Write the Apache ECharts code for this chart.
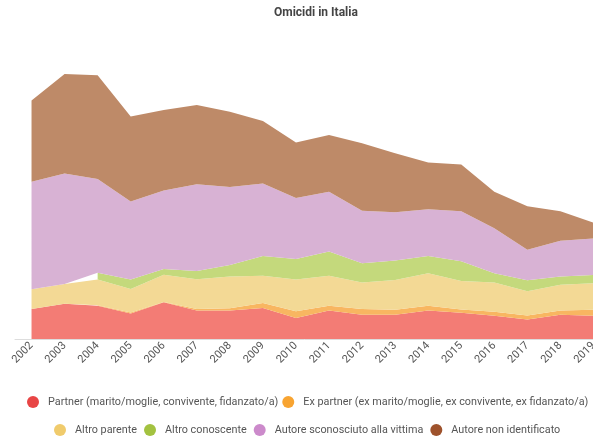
<!DOCTYPE html>
<html>
<head>
<meta charset="utf-8">
<script src="https://cdn.jsdelivr.net/npm/echarts@6/dist/echarts.min.js"></script>
<style>
  html, body { margin: 0; padding: 0; background: #fff; }
  #chart { width: 593px; height: 443px; }
</style>
</head>
<body>
<div id="chart"></div>
<script>
// anni
const years = ['2002', '2003', '2004', '2005', '2006', '2007', '2008', '2009', '2010',
  '2011', '2012', '2013', '2014', '2015', '2016', '2017', '2018', '2019'];

// omicidi per relazione con la vittima (valori stimati dal grafico)
const partner = [80, 94, 89, 68, 98, 76, 76, 83, 56, 76, 65, 65, 76, 70, 62, 52, 65, 62];
const exPartner = [null, null, 1, 3, 1, 4, 6, 13, 18, 13, 15, 13, 13, 9, 11, 11, 11, 16];
const altroParente = [53, 53, 69, 63, 73, 80, 85, 73, 85, 80, 71, 80, 87, 76, 78, 65, 69, 71];
const altroConoscente = [null, null, 18, 25, 15, 22, 31, 53, 55, 65, 52, 52, 46, 53, 25, 29, 22, 22];
const sconosciuto = [288, 296, 251, 209, 210, 232, 209, 194, 163, 160, 140, 129, 125, 134, 120, 82, 96, 98];
const nonIdentificato = [217, 266, 278, 227, 216, 212, 201, 167, 149, 152, 181, 158, 125, 125, 98, 116, 79, 42];

const FONT = 'Roboto, sans-serif';

// nome, dati, colore legenda, colore area
const seriesDefs = [
  ['Partner (marito/moglie, convivente, fidanzato/a)', partner, '#e84545', '#f37c75'],
  ['Ex partner (ex marito/moglie, ex convivente, ex fidanzato/a)', exPartner, '#f8a431', '#f8b661'],
  ['Altro parente', altroParente, '#f0cb6c', '#f3d995'],
  ['Altro conoscente', altroConoscente, '#a3c240', '#c4d97c'],
  ['Autore sconosciuto alla vittima', sconosciuto, '#cc8acb', '#d8b2d4'],
  ['Autore non identificato', nonIdentificato, '#9e522c', '#be8a68']
];

const chart = echarts.init(document.getElementById('chart'));

const legendText = { color: '#555', fontSize: 10.8, fontFamily: FONT };

chart.setOption({
  animation: false,
  title: {
    text: 'Omicidi in Italia',
    left: 269,
    top: 2,
    textStyle: { color: '#444', fontSize: 12, fontWeight: 'bold', fontFamily: FONT }
  },
  tooltip: { trigger: 'axis' },
  legend: [
    {
      data: seriesDefs.slice(0, 2).map(d => d[0]),
      left: 22, top: 391, width: 700,
      icon: 'circle', itemWidth: 20, itemHeight: 12, itemGap: 4,
      textStyle: legendText
    },
    {
      data: seriesDefs.slice(2).map(d => d[0]),
      left: 49, top: 419, width: 700,
      icon: 'circle', itemWidth: 20, itemHeight: 12, itemGap: 7,
      textStyle: legendText
    }
  ],
  grid: { left: 15, right: -17, top: 40, bottom: 104, outerBoundsMode: 'none', containLabel: false },
  xAxis: {
    type: 'category',
    data: years,
    boundaryGap: true,
    axisLine: { lineStyle: { color: '#ddd', width: 1 } },
    axisTick: { show: false },
    axisLabel: { rotate: 45, margin: 5, color: '#555', fontSize: 11, fontFamily: FONT, interval: 0 }
  },
  yAxis: {
    type: 'value',
    min: 0,
    max: 800,
    show: false,
    splitLine: { show: false }
  },
  series: seriesDefs.map(d => ({
    name: d[0],
    type: 'line',
    stack: 'tot',
    data: d[1],
    showSymbol: false,
    symbol: 'none',
    lineStyle: { width: 0 },
    itemStyle: { color: d[2] },
    areaStyle: { color: d[3], opacity: 1 },
    emphasis: { disabled: true }
  }))
});
</script>
</body>
</html>
